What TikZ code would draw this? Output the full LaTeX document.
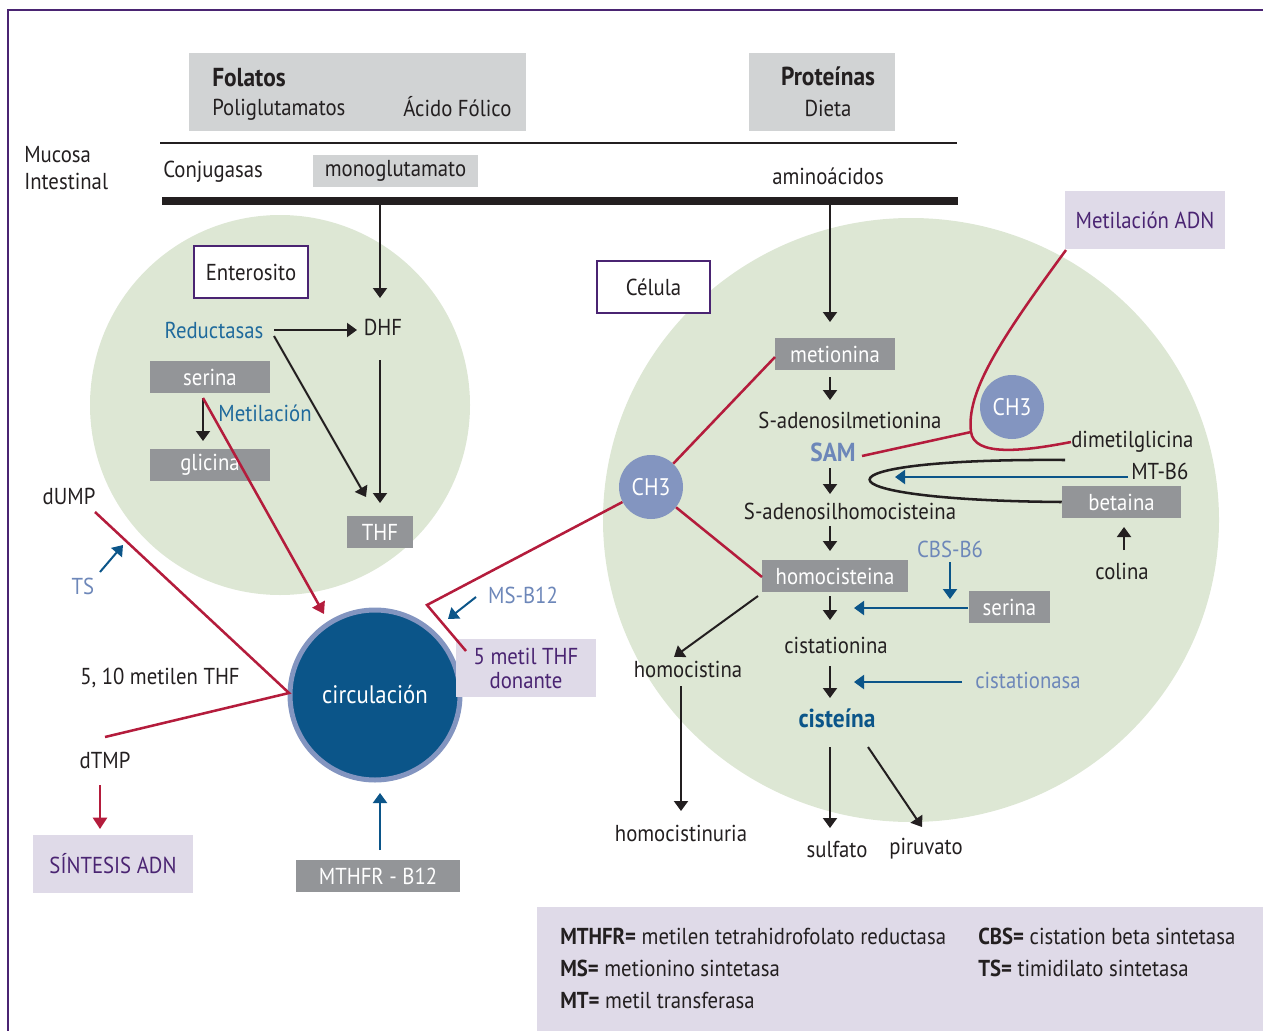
\documentclass[tikz,border=0pt]{standalone}
\usepackage{fontspec}
\setmainfont[FakeStretch=0.9]{PT Sans}
\usetikzlibrary{arrows.meta}
\definecolor{cgreen}{HTML}{DDE7D4}
\definecolor{cgray}{HTML}{939598}
\definecolor{clgray}{HTML}{D1D3D4}
\definecolor{clav}{HTML}{DFDAE8}
\definecolor{cpurp}{HTML}{4A2472}
\definecolor{cblue}{HTML}{1F6A9C}
\definecolor{cbluel}{HTML}{6D87B9}
\definecolor{cch}{HTML}{8395C0}
\definecolor{ccirc}{HTML}{0B5589}
\definecolor{cred}{HTML}{B41C3C}
\definecolor{ctext}{HTML}{231F20}
\newcommand{\fsn}{\fontsize{17.3}{20}\selectfont}
\newcommand{\fsb}{\fontsize{19.5}{22}\selectfont\bfseries}
\begin{document}
\begin{tikzpicture}[x=0.75pt,y=-0.75pt,
  every node/.style={font=\fsn, inner sep=0, text=ctext},
  gbox/.style={fill=cgray, text=white, minimum height=24pt},
  lgbox/.style={fill=clgray},
  lavbox/.style={fill=clav, text=cpurp},
  wbox/.style={fill=white, draw=cpurp, line width=1.5pt},
  chc/.style={circle, fill=cch, text=white, minimum size=48pt},
  blk/.style={draw=ctext, line width=1.5pt, -{Triangle[length=7.5pt, width=10.5pt]}},
  blu/.style={draw=ccirc, line width=1.5pt, -{Triangle[length=7.5pt, width=10.5pt]}},
  redl/.style={draw=cred, line width=1.9pt},
  rarr/.style={draw=cred, line width=1.9pt, -{Triangle[length=8.5pt, width=10.5pt]}},
  bl/.style={text=cblue},
  bll/.style={text=cbluel}
]
\useasboundingbox (0,0) rectangle (1263,1031);
% frame
\draw[cpurp, line width=1.5pt] (8,1031) -- (8,10) -- (1263,10);

% green cells
\fill[cgreen] (280,405) circle (190);
\fill[cgreen] (911,520) ellipse [x radius=308, y radius=302];

% top boxes
\node[lgbox, minimum width=252.75pt, minimum height=58.5pt] (fol) at (357.5,92) {};
\node[anchor=west, font=\fsb] (folt) at (212,78) {Folatos};
\node[anchor=west] (poli) at (212,110) {Poliglutamatos};
\node[anchor=west] (acido) at (403,107) {Ácido Fólico};
\node[lgbox, minimum width=109.5pt, minimum height=58.5pt] (prot) at (822,92) {};
\node[font=\fsb] (protl) at (828,76) {Proteínas};
\node (dieta) at (828,108) {Dieta};

\draw[ctext, line width=1.9pt] (160,143) -- (957,143);
\draw[ctext, line width=6pt] (162,201) -- (958,201);

\node[anchor=west, align=left, font=\fontsize{17.3}{20.5}\selectfont] (muc) at (24,168) {Mucosa\\Intestinal};
\node[anchor=west] (conj) at (163,172) {Conjugasas};
\node[lgbox, minimum width=123.75pt, minimum height=24pt] (mono) at (395.5,171) {monoglutamato};
\node (amino) at (828,176) {aminoácidos};

% enterocyte
\node[wbox, minimum width=85.5pt, minimum height=39pt] (ent) at (251,272) {Enterosito};
\coordinate (b1) at (380,205);
\coordinate (b1e) at (380,298);
\draw[blk] (b1) -- (b1e);
\node[bl] (red) at (214,330) {Reductasas};
\node (dhf) at (383,327) {DHF};
\node[gbox, minimum width=90pt] (ser1) at (210,377) {serina};
\node[gbox, minimum width=90pt] (gli) at (210,465) {glicina};
\node[gbox, minimum width=49.5pt] (thf) at (380,532) {THF};
\node[bl] (metil) at (265,413) {Metilación};
\coordinate (r1) at (274,330);
\coordinate (r2) at (357,330);
\draw[blk] (r1) -- (r2);
\coordinate (r3) at (274,336);
\coordinate (r4) at (366,497);
\draw[blk] (r3) -- (r4);
\coordinate (d1) at (380,360);
\coordinate (d2) at (380,503);
\draw[blk] (d1) -- (d2);
\coordinate (s1) at (203,398);
\coordinate (s2) at (203,441);
\draw[blk] (s1) -- (s2);

% circulation
\node[circle, fill=ccirc, draw=cch, line width=3.75pt, minimum size=127.5pt, text=white, font=\fontsize{19}{22}\selectfont] (circ) at (375,695) {circulación};
\coordinate (s3) at (324,614);
\draw[rarr] (s1) -- (s3);

% left side
\node (dump) at (69,496) {dUMP};
\node[bll] (ts) at (83,586) {TS};
\node (mth) at (160,678) {5, 10 metilen THF};
\node (dtmp) at (105,760) {dTMP};
\coordinate (u1) at (95,512);
\coordinate (apx) at (289,693);
\coordinate (u2) at (105,737);
\draw[redl] (u1) -- (apx) -- (u2);
\coordinate (t1) at (100,572);
\coordinate (t2) at (123,545);
\draw[blu] (t1) -- (t2);
\coordinate (dt1) at (100,785);
\coordinate (dt2) at (100,829);
\draw[rarr] (dt1) -- (dt2);
\node[lavbox, minimum width=120pt, minimum height=43.5pt] (sint) at (113,864) {SÍNTESIS ADN};
\node[gbox, minimum width=123pt] (mthfr) at (378,876) {MTHFR - B12};
\coordinate (m1) at (380,850);
\coordinate (m2) at (380,793);
\draw[blu] (m1) -- (m2);
\node[lavbox, minimum width=105pt, minimum height=43.5pt, align=center, font=\fontsize{17.3}{18}\selectfont] (don) at (526,668) {5 metil THF\\donante};
\node[bll] (msb) at (523,595) {MS-B12};
\coordinate (ms1) at (476,597);
\coordinate (ms2) at (448,619);
\draw[blu] (ms1) -- (ms2);

% right cell
\node[wbox, minimum width=84.75pt, minimum height=39pt] (cel) at (653.5,287) {Célula};
\node[lavbox, minimum width=120pt, minimum height=43.5pt] (mad) at (1145,220) {Metilación ADN};
\coordinate (b2) at (830,205);
\coordinate (b2e) at (830,322);
\draw[blk] (b2) -- (b2e);
\node[gbox, minimum width=90pt] (met) at (835,354) {metionina};
\node (sam1) at (850,420) {S-adenosilmetionina};
\node[text=cbluel, font=\fsb] (sam) at (833,452) {SAM};
\node (sah) at (850,511) {S-adenosilhomocisteina};
\node[gbox, minimum width=109.5pt] (hcy) at (835,576) {homocisteina};
\node (cist) at (836,645) {cistationina};
\node[text=ccirc, font=\fsb] (cys) at (837,718) {cisteína};
\node (sulf) at (837,849) {sulfato};
\node (piru) at (926,849) {piruvato};
\node (hcyst) at (688,669) {homocistina};
\node (hcyu) at (681,833) {homocistinuria};
\node[gbox, minimum width=60.75pt] (ser2) at (1009.5,607) {serina};
\node[bll] (cbs) at (950,549) {CBS-B6};
\node[bll] (cistasa) at (1028,680) {cistationasa};
\node[gbox, minimum width=89.25pt] (bet) at (1121.5,502) {betaina};
\node (col) at (1122,571) {colina};
\node[anchor=west] (dmg) at (1071,442) {dimetilglicina};
\node[anchor=west] (mtb) at (1131,471) {MT-B6};
\node[chc, font=\fontsize{18}{20}\selectfont] (ch3a) at (651,487) {CH3};
\node[chc, font=\fontsize{18}{20}\selectfont] (ch3b) at (1012,407) {CH3};

% vertical chain arrows
\coordinate (a1) at (830,377); \coordinate (a1e) at (830,400);
\draw[blk] (a1) -- (a1e);
\coordinate (a2) at (830,468); \coordinate (a2e) at (830,494);
\draw[blk] (a2) -- (a2e);
\coordinate (a3) at (830,526); \coordinate (a3e) at (830,551);
\draw[blk] (a3) -- (a3e);
\coordinate (a4) at (830,596); \coordinate (a4e) at (830,620);
\draw[blk] (a4) -- (a4e);
\coordinate (a5) at (830,666); \coordinate (a5e) at (830,698);
\draw[blk] (a5) -- (a5e);
\coordinate (a6) at (830,747); \coordinate (a6e) at (830,828);
\draw[blk] (a6) -- (a6e);
\coordinate (a7) at (868,747); \coordinate (a7e) at (922,827);
\draw[blk] (a7) -- (a7e);
\coordinate (h1) at (758,596); \coordinate (h1e) at (674,657);
\draw[blk] (h1) -- (h1e);
\coordinate (h2) at (681,686); \coordinate (h2e) at (681,811);
\draw[blk] (h2) -- (h2e);
\coordinate (c1) at (1124,550); \coordinate (c1e) at (1124,527);
\draw[blk] (c1) -- (c1e);

% blue arrows right
\coordinate (sb) at (968,608); \coordinate (sbe) at (854,608);
\draw[blu] (sb) -- (sbe);
\coordinate (cb) at (950,562); \coordinate (cbe) at (950,599);
\draw[blu] (cb) -- (cbe);
\coordinate (ca) at (962,682); \coordinate (cae) at (854,682);
\draw[blu] (ca) -- (cae);
\coordinate (mt1) at (1128,477); \coordinate (mt1e) at (895,477);
\draw[blu] (mt1) -- (mt1e);

% black U curve
\coordinate (u3) at (1065,460);
\draw[ctext, line width=1.9pt] (u3) .. controls (805,458) and (805,500) .. (bet.west);

% red lines right
\coordinate (mw) at (775,357);
\coordinate (hw) at (762,577);
\draw[redl] (mw) -- (ch3a) -- (hw);
\coordinate (apx2) at (427,605);
\coordinate (dn) at (466,651);
\draw[redl] (ch3a) -- (apx2) -- (dn);
\coordinate (mad1) at (1066,250);
\coordinate (jn) at (971,432);
\draw[redl] (mad1) .. controls (1000,340) and (966,392) .. (jn) .. controls (974,456) and (1020,452) .. (dmg.west);
\coordinate (samr) at (862,456);
\draw[redl] (samr) -- (jn);

% legend
\node[fill=clav, minimum width=544.5pt, minimum height=93pt] (leg) at (900,969) {};
\node[anchor=west] (l1) at (560,936) {\textbf{MTHFR=} metilen tetrahidrofolato reductasa};
\node[anchor=west] (l2) at (560,968) {\textbf{MS=} metionino sintetasa};
\node[anchor=west] (l3) at (560,1000) {\textbf{MT=} metil transferasa};
\node[anchor=west] (l4) at (978,936) {\textbf{CBS=} cistation beta sintetasa};
\node[anchor=west] (l5) at (978,968) {\textbf{TS=} timidilato sintetasa};
\end{tikzpicture}
\end{document}
